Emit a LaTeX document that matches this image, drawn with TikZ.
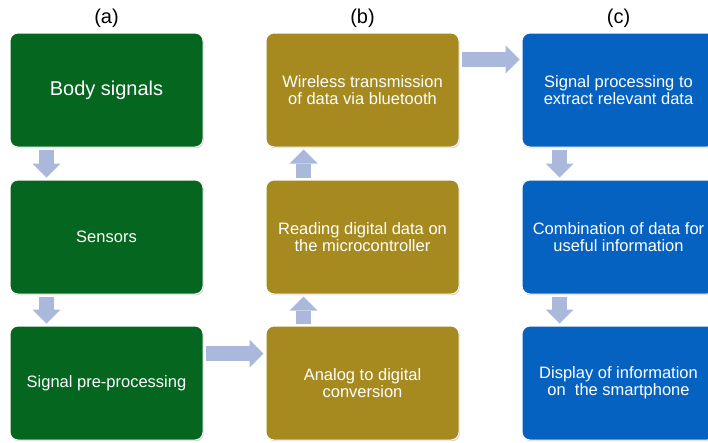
\documentclass[tikz,border=0pt]{standalone}
\usepackage{fontspec}
\setmainfont{Liberation Sans}
\usepackage{xcolor}
\definecolor{flowGreen}{HTML}{05661F}
\definecolor{flowOlive}{HTML}{A68A1F}
\definecolor{flowBlue}{HTML}{0562C1}
\definecolor{flowArrow}{HTML}{A9B8DB}
\usetikzlibrary{arrows.meta,positioning,shadows}

\begin{document}
\begin{tikzpicture}[x=1pt, y=1pt,
    box/.style={draw=white, line width=1pt, rounded corners=8pt, minimum width=193pt, minimum height=114pt, text=white, align=center, font=\fontsize{16.5}{17}\selectfont, drop shadow={shadow xshift=0.8pt, shadow yshift=-1.2pt, opacity=0.35, fill=black!60}},
    ga/.style={box, fill=flowGreen},
    gb/.style={box, fill=flowOlive},
    gc/.style={box, fill=flowBlue},
    lbl/.style={inner sep=0pt, font=\fontsize{20}{22}\selectfont},
    blk/.style={draw=flowArrow, line width=15pt, -{Triangle[width=28pt, length=14pt, line width=0pt]}, shorten <=2pt, shorten >=2pt}
  ]
    \useasboundingbox (0,0) rectangle (708,-442);
    % column (a)
    \node[ga, font=\fontsize{20}{22}\selectfont] (a1) at (106.5,-90) {Body signals};
    \node[ga, below=32pt of a1] (a2) {Sensors};
    \node[ga, below=31pt of a2] (a3) {Signal pre-processing};
    % column (b)
    \node[gb, right=62pt of a1] (b1) {Wireless transmission\\of data via bluetooth};
    \node[gb, right=62pt of a2] (b2) {Reading digital data on\\the microcontroller};
    \node[gb, right=62pt of a3] (b3) {Analog to digital\\conversion};
    % column (c)
    \node[gc, right=62pt of b1] (c1) {Signal processing to\\extract relevant data};
    \node[gc, right=62pt of b2] (c2) {Combination of data for\\useful information};
    \node[gc, right=62pt of b3] (c3) {Display of information\\on\ \ the smartphone};
    \node[lbl, above=5pt of a1] (la) {(a)};
    \node[lbl, above=5pt of b1] (lb) {(b)};
    \node[lbl, above=5pt of c1] (lc) {(c)};
    \draw[blk] ([xshift=37pt]a1.south west) -- ([xshift=37pt]a2.north west);
    \draw[blk] ([xshift=37pt]a2.south west) -- ([xshift=37pt]a3.north west);
    \draw[blk] ([yshift=-28pt]a3.north east) -- ([yshift=-28pt]b3.north west);
    \draw[blk] ([xshift=38pt]b3.north west) -- ([xshift=38pt]b2.south west);
    \draw[blk] ([xshift=38pt]b2.north west) -- ([xshift=38pt]b1.south west);
    \draw[blk] ([yshift=-27pt]b1.north east) -- ([yshift=-27pt]c1.north west);
    \draw[blk] ([xshift=38pt]c1.south west) -- ([xshift=38pt]c2.north west);
    \draw[blk] ([xshift=38pt]c2.south west) -- ([xshift=38pt]c3.north west);
  \end{tikzpicture}
\end{document}
